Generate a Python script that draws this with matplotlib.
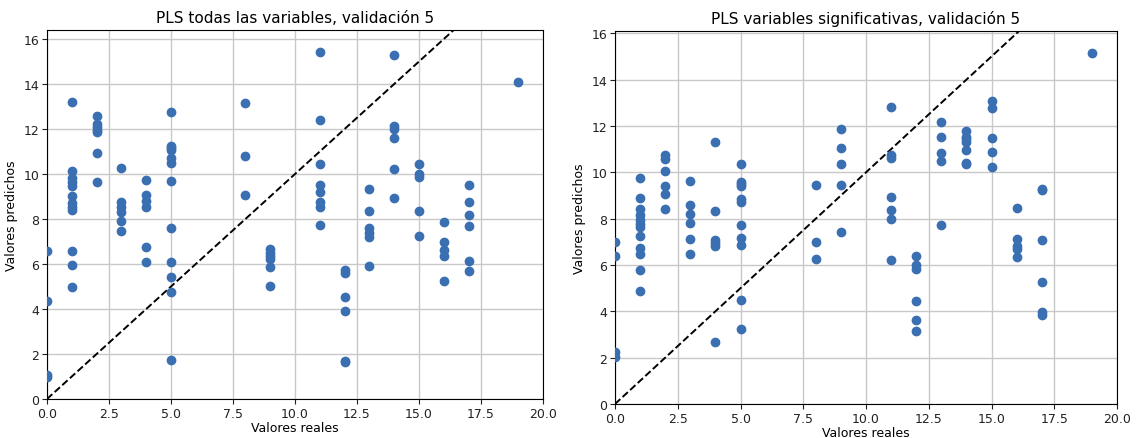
import matplotlib
matplotlib.use("Agg")
import matplotlib.pyplot as plt

# Left panel: PLS todas las variables
real_all = ([0]*4 + [1]*12 + [2]*7 + [3]*6 + [4]*6 + [5]*12 + [8]*3 + [9]*6
            + [11]*8 + [12]*6 + [13]*6 + [14]*6 + [15]*5 + [16]*5 + [17]*6 + [19])
pred_all = [6.59, 4.36, 1.08, 0.96,
            13.21, 10.15, 9.81, 9.63, 9.48, 9.04, 8.7, 8.55, 8.4, 6.56, 5.96, 4.96,
            12.59, 12.22, 12.07, 11.95, 11.85, 10.92, 9.64,
            10.25, 8.74, 8.52, 8.3, 7.93, 7.45,
            9.75, 9.07, 8.81, 8.55, 6.77, 6.07,
            12.77, 11.25, 11.15, 11.07, 10.7, 10.49, 9.67, 7.61, 6.1, 5.41, 4.74, 1.73,
            13.17, 10.79, 9.08,
            6.67, 6.47, 6.35, 6.22, 5.85, 5.04,
            15.4, 12.41, 10.43, 9.5, 9.19, 8.77, 8.55, 7.73,
            5.75, 5.6, 4.52, 3.93, 1.70, 1.63,
            9.33, 8.37, 7.59, 7.36, 7.19, 5.93,
            15.29, 12.15, 12.0, 11.59, 10.21, 8.93,
            10.43, 10.0, 9.88, 8.34, 7.26,
            7.85, 6.96, 6.64, 6.36, 5.24,
            9.51, 8.77, 8.16, 7.70, 6.15, 5.67,
            14.09]

# Right panel: PLS variables significativas
real_sig = ([0]*4 + [1]*12 + [2]*6 + [3]*6 + [4]*6 + [5]*11 + [8]*3 + [9]*5
            + [11]*7 + [12]*6 + [13]*5 + [14]*7 + [15]*5 + [16]*5 + [17]*6 + [19])
pred_sig = [6.99, 6.37, 2.26, 2.02,
            9.76, 8.91, 8.43, 8.14, 7.93, 7.78, 7.64, 7.24, 6.73, 6.47, 5.79, 4.86,
            10.74, 10.57, 10.06, 9.41, 9.05, 8.43,
            9.61, 8.61, 8.22, 7.80, 7.14, 6.47,
            11.32, 8.32, 7.09, 6.96, 6.80, 2.67,
            10.34, 9.59, 9.50, 9.40, 8.86, 8.72, 7.71, 7.18, 6.85, 4.47, 3.24,
            9.47, 6.99, 6.27,
            11.89, 11.07, 10.34, 9.44, 7.42,
            12.83, 10.74, 10.62, 8.94, 8.39, 8.0, 6.23,
            6.40, 5.98, 5.84, 4.44, 3.63, 3.14,
            12.17, 11.53, 10.84, 10.48, 7.73,
            11.79, 11.53, 11.43, 11.32, 10.98, 10.42, 10.38,
            13.07, 12.79, 11.49, 10.87, 10.21,
            8.46, 7.14, 6.80, 6.67, 6.33,
            9.30, 9.25, 7.06, 5.28, 3.96, 3.85,
            15.14]

titles = ["PLS todas las variables, validación 5",
          "PLS variables significativas, validación 5"]
xlabel = "Valores reales"
ylabel = "Valores predichos"
diag = [0, 20]

fig = plt.figure(figsize=(11.36, 4.39), dpi=100)
ax1 = fig.add_axes([47/1136, 39/439, 496/1136, 369/439])
ax2 = fig.add_axes([615/1136, 34/439, 502/1136, 373/439])

color = "#3a6fb2"
for ax, xs, ys, t, ytop in [(ax1, real_all, pred_all, titles[0], 16.4),
                            (ax2, real_sig, pred_sig, titles[1], 16.1)]:
    ax.scatter(xs, ys, s=36, color=color, zorder=3)
    ax.plot(diag, diag, "k--", lw=1.4, zorder=2)
    ax.set_xlim(0, 20)
    ax.set_ylim(0, ytop)
    ax.set_xticks([0, 2.5, 5, 7.5, 10, 12.5, 15, 17.5, 20])
    ax.set_yticks(range(0, 17, 2))
    ax.grid(True, color="#c8c8c8", lw=1)
    ax.set_axisbelow(True)
    ax.set_title(t, fontsize=11)
    ax.set_xlabel(xlabel, fontsize=9, labelpad=1)
    ax.set_ylabel(ylabel, fontsize=9)
    ax.tick_params(labelsize=9, colors="#222222", pad=2)

fig.savefig("out.png", dpi=100)
